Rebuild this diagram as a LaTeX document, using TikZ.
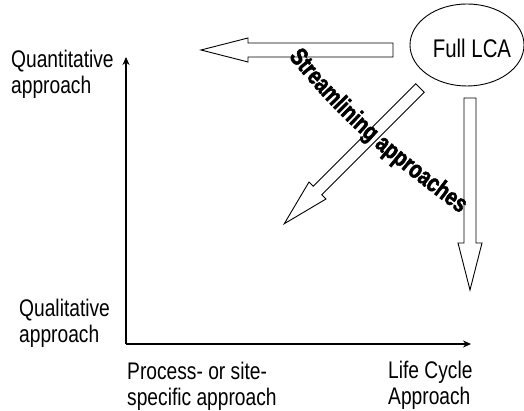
\documentclass[tikz,border=0pt]{standalone}
\usepackage{fontspec}
\usepackage{tikz}
\usetikzlibrary{arrows.meta, shapes.geometric, decorations.text}
\newfontfamily\narrowsans{Liberation Sans}[FakeStretch=0.8]
\newfontfamily\narrowbold{Liberation Sans Bold}[FakeStretch=0.78, FakeBold=2]

\tikzset{
  axislabel/.style={font=\narrowsans\fontsize{24}{26}\selectfont, align=left, anchor=north west, inner sep=0pt},
  axisline/.style={line width=1.1pt, -{Stealth[length=8pt,width=7pt]}},
}

% block arrow: tail point, angle, length, half shaft width
\newcommand{\blockarrow}[4]{%
  \begin{scope}[shift={#1}, rotate=#2]
    \draw[line width=0.9pt, fill=white] (0,-#4) -- (#3-47,-#4) -- (#3-47,-12) -- (#3,0)
      -- (#3-47,12) -- (#3-47,#4) -- (0,#4) -- cycle;
  \end{scope}}

\begin{document}
\begin{tikzpicture}[x=1pt, y=1pt]

	\useasboundingbox (0,0) rectangle (524,411);

	% axes
	\coordinate (origin) at (126,67);
	\coordinate (ytop) at (126,354);
	\coordinate (xend) at (471,67);
	\draw[axisline] (origin) -- (ytop);
	\draw[axisline] (origin) -- (xend);

	\node[axislabel] (quant) at (11,361) {Quantitative\\approach};
	\node[axislabel] (qual) at (19,112) {Qualitative\\approach};
	\node[axislabel] (proc) at (127,49) {Process- or site-\\specific approach};
	\node[axislabel] (life) at (388,50) {Life Cycle\\Approach};

	% full LCA
	\node[draw, ellipse, line width=0.9pt, minimum width=114pt, minimum height=82pt] (full) at (467,366) {};
	\node[font=\narrowsans\fontsize{25.5}{25}\selectfont] (fulltext) at (472,363) {Full LCA};

	% streamlining arrows
	\coordinate (lefttail) at (393,361);
	\coordinate (diagtail) at (420,323);
	\coordinate (downtail) at (470,313);
	\blockarrow{(lefttail)}{180}{192}{7}
	\blockarrow{(diagtail)}{225}{192}{6}
	\blockarrow{(downtail)}{270}{192}{6}

	\path[decorate, decoration={text along path, text align=center,
	  text={|\narrowbold\fontsize{25}{25}\selectfont|Streamlining approaches}}]
	  (287,356) to[out=-51, in=143] (462,196);

\end{tikzpicture}
\end{document}
